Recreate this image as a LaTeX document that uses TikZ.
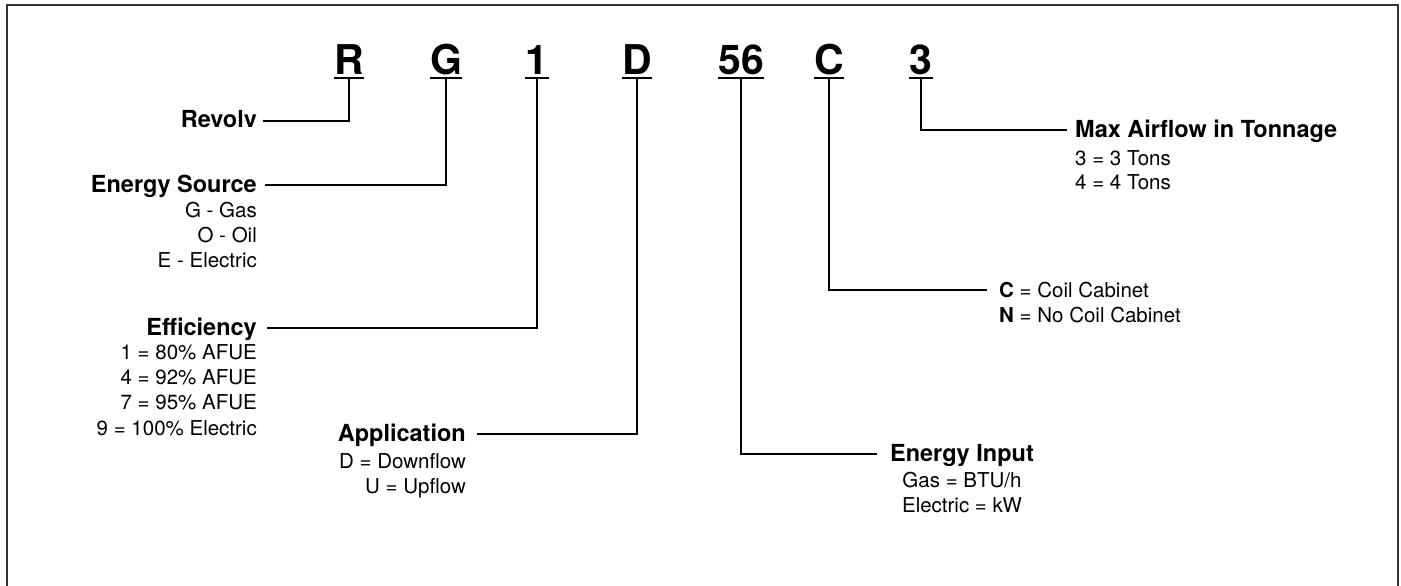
\documentclass[tikz,border=0pt]{standalone}
\usepackage{fontspec}
\setmainfont{TeX Gyre Heros}
\begin{document}
\begin{tikzpicture}[x=1pt,y=-1pt,
  code/.style={font=\fontsize{41}{41}\selectfont\bfseries, inner sep=0pt, anchor=base},
  head/.style={font=\fontsize{23.5}{25}\selectfont\bfseries, inner sep=0pt},
  body/.style={font=\fontsize{20.5}{25}\selectfont, inner sep=0pt},
  link/.style={line width=1.8pt, line join=miter},
  uline/.style={line width=2pt},
  frame/.style={line width=1.6pt, draw=black!80}]
\useasboundingbox (0,0) rectangle (1401,586);
\draw[frame] (7,586) -- (7,5) -- (1398,5) -- (1398,586);

% code characters
\node[code] (R) at (349,75) {R};
\node[code] (G) at (446,75) {G};
\node[code] (one) at (537,75) {1};
\node[code] (D) at (637,75) {D};
\node[code] (ff) at (741,75) {56};
\node[code] (C) at (829,75) {C};
\node[code] (three) at (921,75) {3};
\foreach \n in {R,G,one,D,ff,C,three}{
  \draw[uline] ([yshift=-3.5pt]\n.base west) -- ([yshift=-3.5pt]\n.base east);
  \coordinate (\n u) at ([yshift=-3.5pt]\n.base);
}

% left labels
\node[head, anchor=base east] (rev) at (257,128) {Revolv};

\node[head, anchor=base east] (es) at (257,192) {Energy Source};
\node[body, anchor=base east] (es1) at (257,217) {G - Gas};
\node[body, anchor=base east] (es2) at (257,242) {O - Oil};
\node[body, anchor=base east] (es3) at (257,267) {E - Electric};

\node[head, anchor=base east] (eff) at (257,335) {Efficiency};
\node[body, anchor=base east] (eff1) at (257,359) {1 = 80\% AFUE};
\node[body, anchor=base east] (eff2) at (257,384) {4 = 92\% AFUE};
\node[body, anchor=base east] (eff3) at (257,409) {7 = 95\% AFUE};
\node[body, anchor=base east] (eff4) at (257,435) {9 = 100\% Electric};

\node[head, anchor=base east] (app) at (466,441) {Application};
\node[body, anchor=base east] (app1) at (466,468) {D = Downflow};
\node[body, anchor=base east] (app2) at (466,493) {U = Upflow};

% right labels
\node[head, anchor=base] (ei) at (962,461) {Energy Input};
\node[body, anchor=base] (ei1) at (962,487) {Gas = BTU/h};
\node[body, anchor=base] (ei2) at (962,512) {Electric = kW};

\node[body, anchor=base west] (cc1) at (999,297) {\textbf{C} = Coil Cabinet};
\node[body, anchor=base west] (cc2) at (999,322) {\textbf{N} = No Coil Cabinet};

\node[head, anchor=base west] (max) at (1075,137) {Max Airflow in Tonnage};
\node[body, anchor=base west] (max1) at (1075,165) {3 = 3 Tons};
\node[body, anchor=base west] (max2) at (1075,189) {4 = 4 Tons};

% connectors
\draw[link] (Ru) |- ([xshift=6pt,yshift=7pt]rev.base east);
\draw[link] (Gu) |- ([xshift=8pt,yshift=7pt]es.base east);
\draw[link] (oneu) |- ([xshift=10pt,yshift=7pt]eff.base east);
\draw[link] (Du) |- ([xshift=11pt,yshift=7pt]app.base east);
\draw[link] (ffu) |- ([xshift=-13pt,yshift=7pt]ei.base west);
\draw[link] (Cu) |- ([xshift=-12pt,yshift=7pt]cc1.base west);
\draw[link] (threeu) |- ([xshift=-8pt,yshift=7pt]max.base west);
\end{tikzpicture}
\end{document}
